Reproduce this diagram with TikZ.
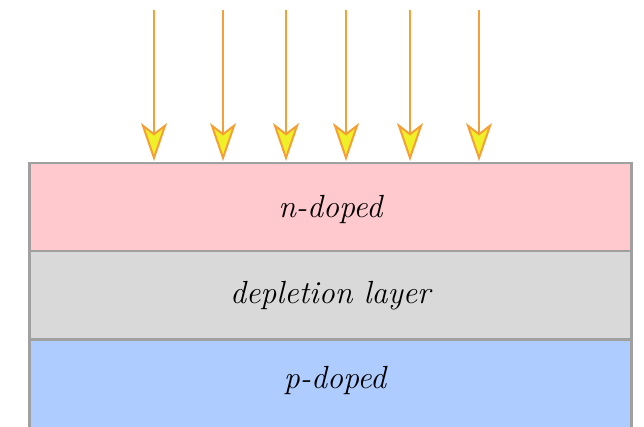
\documentclass[tikz,border=0pt]{standalone}
\usetikzlibrary{arrows.meta}
\definecolor{npink}{RGB}{255,201,206}
\definecolor{dgray}{RGB}{217,217,217}
\definecolor{pblue}{RGB}{174,204,255}
\definecolor{edge}{RGB}{160,160,160}
\definecolor{ray}{RGB}{245,160,55}
\definecolor{rayfill}{RGB}{240,240,40}
\tikzset{
  layer/.style={draw=edge, line width=2.5pt, minimum width=602pt, minimum height=88pt,
    inner sep=0pt},
  label/.style={font=\fontsize{32}{38}\selectfont\itshape},
  lightray/.style={draw=ray, line width=2.5pt,
    -{Stealth[length=38pt, width=26pt, inset=10pt, fill=rayfill, line width=2pt]}}
}
\begin{document}
\begin{tikzpicture}[x=1pt,y=-1pt]
\useasboundingbox (0,0) rectangle (644,427);
\node[layer, fill=pblue, anchor=north west, minimum height=110pt] (p) at (28,338) {};
\node[layer, fill=npink, anchor=north west] (n) at (28,162) {};
\node[layer, fill=dgray, anchor=north west] (d) at (28,250) {};
\node[label] (dt) at (d.center) {depletion layer};
\node[label] (nt) at ([yshift=-2pt]n.center) {n-doped};
\node[label] (pt) at (335,380) {p-doped};
\foreach \i/\x in {1/154,2/223,3/286,4/346,5/410,6/479}{
  \coordinate (s\i) at (\x,10);
  \coordinate (e\i) at (\x,161);
  \draw[lightray] (s\i) -- (e\i);
}
\end{tikzpicture}
\end{document}
